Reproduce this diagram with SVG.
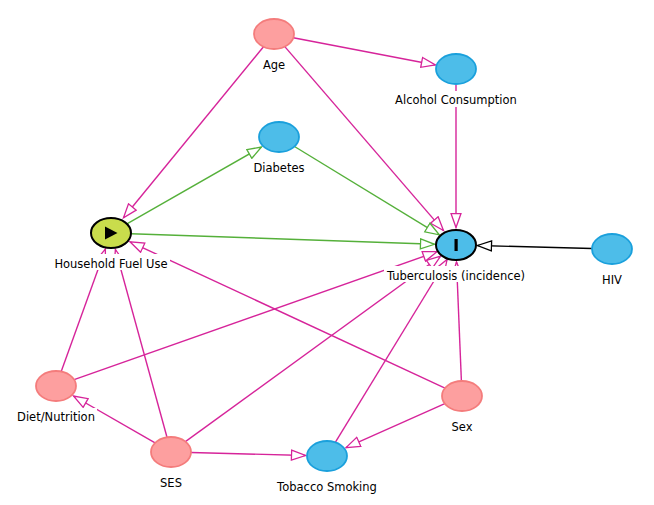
<svg xmlns="http://www.w3.org/2000/svg" width="654" height="505" viewBox="0 0 654 505">
<style>
.e{fill:none;stroke-width:1.4}
.p{stroke:#d6249a;marker-end:url(#ap)}
.g{stroke:#55b03a;marker-end:url(#ag)}
.k{stroke:#000;marker-end:url(#ak)}
.anc{fill:#fd9f9f;stroke:#f47c7c;stroke-width:1.8}
.out{fill:#4dbde9;stroke:#1aa0dc;stroke-width:1.8}
.lb{fill:#fff}
.t{font-family:"DejaVu Sans",sans-serif;font-size:11.5px;fill:#000;text-anchor:middle}
</style>
<defs>
<marker id="ap" markerUnits="userSpaceOnUse" markerWidth="18" markerHeight="14" refX="15" refY="6" orient="auto"><path d="M1,1 L15,6 L1,11 z" fill="#fff" stroke="#d6249a" stroke-width="1.3"/></marker>
<marker id="ag" markerUnits="userSpaceOnUse" markerWidth="18" markerHeight="14" refX="15" refY="6" orient="auto"><path d="M1,1 L15,6 L1,11 z" fill="#fff" stroke="#55b03a" stroke-width="1.3"/></marker>
<marker id="ak" markerUnits="userSpaceOnUse" markerWidth="18" markerHeight="14" refX="15" refY="6" orient="auto"><path d="M1,1 L15,6 L1,11 z" fill="#fff" stroke="#000" stroke-width="1.3"/></marker>
</defs>
<g id="edges">
<path class="e p" d="M293.3,37.7 L435.4,65"/>
<path class="e p" d="M263.5,46.8 L123.5,217.8"/>
<path class="e p" d="M284.8,46.6 L443.5,230.6"/>
<path class="e p" d="M456,85 L456,227.5"/>
<path class="e g" d="M294.5,146.5 L439.3,234.8"/>
<path class="e g" d="M126.9,223.9 L261.5,147"/>
<path class="e g" d="M131,233.7 L434.5,244.3"/>
<path class="e k" d="M592,248.5 L477.5,245.5"/>
<path class="e p" d="M61.2,371.5 L105.4,249"/>
<path class="e p" d="M167,437.3 L115.4,249.5"/>
<path class="e p" d="M155.1,442.9 L73.5,396"/>
<path class="e p" d="M185.4,441.6 L440.6,256.2"/>
<path class="e p" d="M191,452.5 L305.5,455.5"/>
<path class="e p" d="M74.1,379.6 L437,251.7"/>
<path class="e p" d="M335.3,442.4 L447.1,259.5"/>
<path class="e p" d="M461.4,381 L456.5,262"/>
<path class="e p" d="M445,388.1 L130,241.8"/>
<path class="e p" d="M444.8,403.6 L346,447.6"/>
</g>
<g id="node-age"><ellipse class="anc" cx="274" cy="34" rx="20" ry="15"/><rect class="lb" x="261" y="56" width="26" height="16"/><text class="t" x="274" y="69">Age</text></g>
<g id="node-alcohol"><ellipse class="out" cx="456" cy="69" rx="20" ry="15"/><rect class="lb" x="393" y="91" width="126" height="16"/><text class="t" x="456" y="104">Alcohol Consumption</text></g>
<g id="node-diabetes"><ellipse class="out" cx="279" cy="137" rx="20" ry="15"/><rect class="lb" x="251" y="159" width="56" height="16"/><text class="t" x="279" y="172">Diabetes</text></g>
<g id="node-hfu"><ellipse cx="111" cy="233" rx="20" ry="15" fill="#c9dc4c" stroke="#000" stroke-width="2"/><path d="M105,226.5 L117.5,233 L105,239.5 z" fill="#000"/><rect class="lb" x="52" y="254" width="118" height="16"/><text class="t" x="111" y="268">Household Fuel Use</text></g>
<g id="node-tb"><ellipse cx="456" cy="245" rx="20" ry="15" fill="#4dbde9" stroke="#000" stroke-width="2"/><rect x="454.5" y="239" width="3.2" height="12" fill="#000"/><rect class="lb" x="384" y="266" width="144" height="16"/><text class="t" x="456" y="280">Tuberculosis (incidence)</text></g>
<g id="node-hiv"><ellipse class="out" cx="612" cy="249" rx="20" ry="15"/><rect class="lb" x="600" y="271" width="24" height="16"/><text class="t" x="612" y="284">HIV</text></g>
<g id="node-diet"><ellipse class="anc" cx="56" cy="386" rx="20" ry="15"/><rect class="lb" x="15" y="408" width="82" height="16"/><text class="t" x="56" y="421">Diet/Nutrition</text></g>
<g id="node-ses"><ellipse class="anc" cx="171" cy="452" rx="20" ry="15"/><rect class="lb" x="158" y="474" width="26" height="16"/><text class="t" x="171" y="487">SES</text></g>
<g id="node-sex"><ellipse class="anc" cx="462" cy="396" rx="20" ry="15"/><rect class="lb" x="449" y="418" width="26" height="16"/><text class="t" x="462" y="431">Sex</text></g>
<g id="node-tobacco"><ellipse class="out" cx="327" cy="456" rx="20" ry="15"/><rect class="lb" x="274" y="478" width="106" height="16"/><text class="t" x="327" y="491">Tobacco Smoking</text></g>
</svg>
